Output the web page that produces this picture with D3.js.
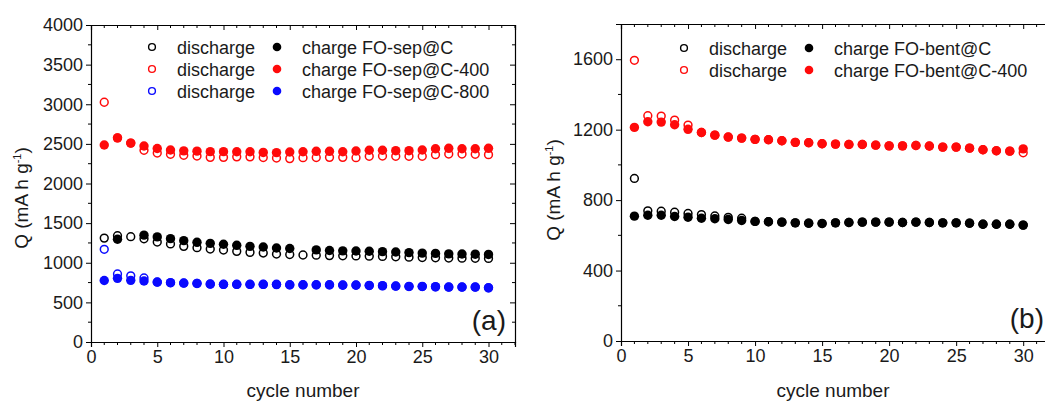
<!DOCTYPE html>
<html><head><meta charset="utf-8">
<script src="https://cdn.jsdelivr.net/npm/d3@7"></script>
<style>
html,body{margin:0;padding:0;background:#fff;}
svg text{font-family:"Liberation Sans",Arial,sans-serif;fill:#1a1a1a;}
</style></head>
<body><svg id="c" width="1045" height="401"></svg>
<script>
const cycles = d3.range(1, 31);

// Panel (a)
const aBlackDis = [1311,1341,1329,1302,1262,1237,1207,1190,1173,1161,1144,1131,1123,1110,1104,1098,1095,1090,1088,1086,1083,1080,1076,1070,1066,1062,1060,1058,1056,1055];
const aBlackCh  = [null,1296,null,1348,1326,1304,1279,1258,1245,1233,1220,1207,1199,1186,1180,null,1162,1155,1150,1148,1145,1140,1135,1128,1122,1118,1112,1110,1108,1105];
const aRedDis   = [3025,2575,2510,2419,2384,2368,2356,2347,2330,2330,2336,2336,2328,2322,2314,2326,2328,2330,2330,2326,2343,2347,2343,2343,2343,2364,2372,2372,2368,2364];
const aRedCh    = [2486,2576,2510,2473,2442,2423,2412,2408,2402,2402,2400,2400,2392,2390,2397,2401,2406,2406,2401,2410,2419,2419,2414,2414,2423,2439,2444,2439,2439,2444];
const aBlueDis  = [1170,858,835,808,755,747,742,738,730,726,726,726,726,724,720,720,720,720,716,716,712,708,704,700,700,696,692,692,692,683];
const aBlueCh   = [776,803,778,770,757,749,744,740,732,728,728,728,728,728,723,723,723,723,719,719,715,711,707,702,702,698,694,694,694,685];

// Panel (b)
const bBlackDis = [923,739,737,731,724,718,710,702,697,679,677,675,671,669,667,671,673,675,675,675,673,675,673,671,671,669,663,663,663,658];
const bBlackCh  = [709,714,714,707,703,697,694,690,684,679,677,675,671,669,667,671,673,675,675,675,673,675,673,671,671,669,663,663,663,658];
const bRedDis   = [1594,1279,1277,1254,1226,1184,1169,1158,1152,1145,1143,1137,1128,1126,1120,1118,1116,1116,1112,1108,1108,1110,1107,1101,1101,1095,1086,1080,1078,1069];
const bRedCh    = [1213,1245,1243,1228,1202,1184,1169,1158,1152,1145,1143,1137,1128,1126,1120,1118,1116,1116,1112,1108,1108,1110,1107,1101,1101,1095,1086,1080,1078,1091];

const aYTicks = [0,500,1000,1500,2000,2500,3000,3500,4000];
const bYTicks = [0,400,800,1200,1600];
const xTicks = [0,5,10,15,20,25,30];
const aLegend = ["charge FO-sep@C","charge FO-sep@C-400","charge FO-sep@C-800"];
const bLegend = ["charge FO-bent@C","charge FO-bent@C-400"];

const BLACK="#000000", RED="#ff0a0a", BLUE="#0a0aff";
const svg = d3.select("#c");

function panel(o){
  const g = svg.append("g");
  const x = d3.scaleLinear().domain([0,32]).range([o.l,o.r]);
  const y = d3.scaleLinear().domain([0,o.ymax]).range([o.b,o.t]);

  o.series.forEach(s=>{
    const pts = cycles.map((c,i)=>({c,v:s.vals[i]})).filter(p=>p.v!=null);
    const sel = g.append("g").selectAll("circle").data(pts).join("circle")
      .attr("cx",p=>x(p.c)).attr("cy",p=>y(p.v));
    if(s.open){
      sel.attr("r",3.9).attr("fill","#fff").attr("stroke",s.color).attr("stroke-width",1.5);
    } else {
      sel.attr("r",4.7).attr("fill",s.color);
    }
  });

  const minorX = d3.range(0,33,1).filter(v=>v%5!==0);
  const bottom = d3.axisBottom(x).tickValues(xTicks).tickSize(5).tickPadding(3).tickFormat(d3.format("d"));
  const gb = g.append("g").attr("transform",`translate(0,${o.b})`).call(bottom);
  gb.append("g").selectAll("line").data(minorX).join("line").attr("x1",d=>x(d)).attr("x2",d=>x(d)).attr("y1",0).attr("y2",3).attr("stroke","#000");
  const top = d3.axisTop(x).tickValues(xTicks).tickSize(-5).tickFormat("");
  const gt = g.append("g").attr("transform",`translate(0,${o.t})`).call(top);
  gt.append("g").selectAll("line").data(minorX).join("line").attr("x1",d=>x(d)).attr("x2",d=>x(d)).attr("y1",0).attr("y2",3).attr("stroke","#000");

  const minorY = o.minorY;
  const left = d3.axisLeft(y).tickValues(o.yTicks).tickSize(5).tickPadding(3).tickFormat(d3.format("d"));
  const gl = g.append("g").attr("transform",`translate(${o.l},0)`).call(left);
  gl.append("g").selectAll("line").data(minorY).join("line").attr("y1",d=>y(d)).attr("y2",d=>y(d)).attr("x1",0).attr("x2",-3).attr("stroke","#000");
  const right = d3.axisRight(y).tickValues(o.yTicks).tickSize(-5).tickFormat("");
  const gr = g.append("g").attr("transform",`translate(${o.r},0)`).call(right);
  gr.append("g").selectAll("line").data(minorY).join("line").attr("y1",d=>y(d)).attr("y2",d=>y(d)).attr("x1",0).attr("x2",-3).attr("stroke","#000");

  g.selectAll(".domain").attr("stroke","#000").attr("stroke-width",1.2);
  g.selectAll(".tick line").attr("stroke","#000");
  g.selectAll(".tick text").attr("font-size",18).attr("fill","#1a1a1a").style("font-family","Liberation Sans, Arial, sans-serif");

  g.append("text").attr("x",(o.l+o.xc)/2).attr("y",397).attr("text-anchor","middle").attr("font-size",19).text("cycle number");
  const yt = g.append("text").attr("transform",`translate(${o.ytx},${o.yty}) rotate(-90)`).attr("text-anchor","middle").attr("font-size",19);
  yt.append("tspan").text("Q (mA h g");
  yt.append("tspan").attr("font-size",11).attr("dy",-7).text("-1");
  yt.append("tspan").attr("dy",7).text(")");

  g.append("text").attr("x",o.labx).attr("y",o.laby).attr("text-anchor","end").attr("font-size",28).text(o.label);

  o.legend.forEach((name,i)=>{
    const ly = o.legY + i*22;
    g.append("circle").attr("cx",o.legX).attr("cy",ly).attr("r",3.4).attr("fill","#fff").attr("stroke",o.legColors[i]).attr("stroke-width",1.4);
    g.append("text").attr("x",o.legX+25).attr("y",ly+6.5).attr("font-size",18).text("discharge");
    g.append("circle").attr("cx",o.legX+125).attr("cy",ly).attr("r",4.3).attr("fill",o.legColors[i]);
    g.append("text").attr("x",o.legX+150).attr("y",ly+6.5).attr("font-size",18).text(name);
  });
}

panel({id:"a", l:91, r:515, t:25, b:342, xc:515, ymax:4000, yTicks:aYTicks,
  minorY:d3.range(250,4000,500),
  series:[
    {vals:aBlackDis,color:BLACK,open:true},{vals:aBlackCh,color:BLACK,open:false},
    {vals:aRedDis,color:RED,open:true},{vals:aRedCh,color:RED,open:false},
    {vals:aBlueDis,color:BLUE,open:true},{vals:aBlueCh,color:BLUE,open:false}],
  legend:aLegend, legColors:[BLACK,RED,BLUE], legX:152, legY:47,
  ytx:28, yty:198, label:"(a)", labx:506, laby:330});

panel({id:"b", l:621, r:1050, t:24, b:341, xc:1045, ymax:1800, yTicks:bYTicks,
  minorY:d3.range(200,1800,400),
  series:[
    {vals:bBlackDis,color:BLACK,open:true},{vals:bBlackCh,color:BLACK,open:false},
    {vals:bRedDis,color:RED,open:true},{vals:bRedCh,color:RED,open:false}],
  legend:bLegend, legColors:[BLACK,RED], legX:684, legY:48,
  ytx:560, yty:190, label:"(b)", labx:1044, laby:328});
</script></body></html>
